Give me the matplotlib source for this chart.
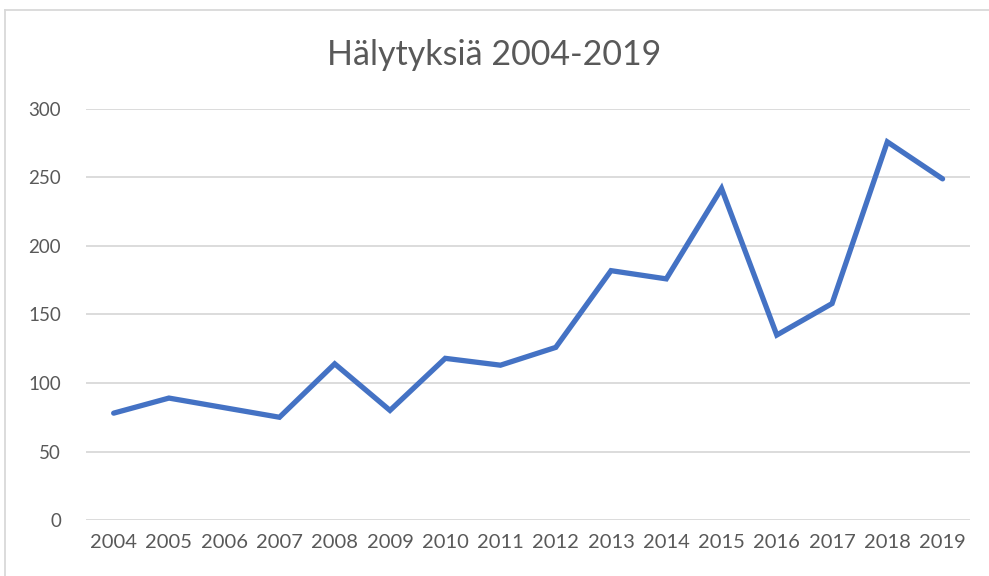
"""
Hälytyksiä 2004-2019 line chart
"""
import matplotlib.pyplot as plt
from matplotlib.lines import Line2D

years = ['2004', '2005', '2006', '2007', '2008', '2009', '2010', '2011',
         '2012', '2013', '2014', '2015', '2016', '2017', '2018', '2019']
alarms = [78, 89, 82, 75, 114, 80, 118, 113, 126, 182, 176, 242, 135, 158, 276, 249]
y_ticks = [0, 50, 100, 150, 200, 250, 300]

plt.rcParams['font.family'] = ['Lato', 'DejaVu Sans']

fig = plt.figure(figsize=(9.89, 5.76), dpi=100)
ax = fig.add_axes([0.087, 0.0972, 0.894, 0.7136])

x = list(range(len(years)))
ax.plot(x, alarms, color='#4472C4', linewidth=3.8, solid_joinstyle='miter',
        solid_capstyle='round', zorder=3)

ax.set_xlim(-0.5, len(years) - 0.5)
ax.set_ylim(0, 300)
ax.set_yticks(y_ticks)
ax.set_xticks(x)
ax.set_xticklabels(years)
ax.grid(axis='y', color='#d9d9d9', linewidth=1.3)
ax.set_axisbelow(True)
for s in ax.spines.values():
    s.set_visible(False)
ax.tick_params(axis='y', length=0, labelsize=13.5, labelcolor='#595959', pad=18)
ax.tick_params(axis='x', length=0, labelsize=14.5, labelcolor='#595959', pad=10)

fig.text(0.5, 0.905, 'Hälytyksiä 2004-2019', ha='center', va='center',
         fontsize=24.5, color='#595959')

# light chart frame
fig.add_artist(Line2D([0.005, 0.005], [0, 0.983], transform=fig.transFigure,
                      color='#d9d9d9', linewidth=1.3))
fig.add_artist(Line2D([0.005, 1], [0.983, 0.983], transform=fig.transFigure,
                      color='#d9d9d9', linewidth=1.3))

plt.savefig('out.png', dpi=100)
plt.close()
